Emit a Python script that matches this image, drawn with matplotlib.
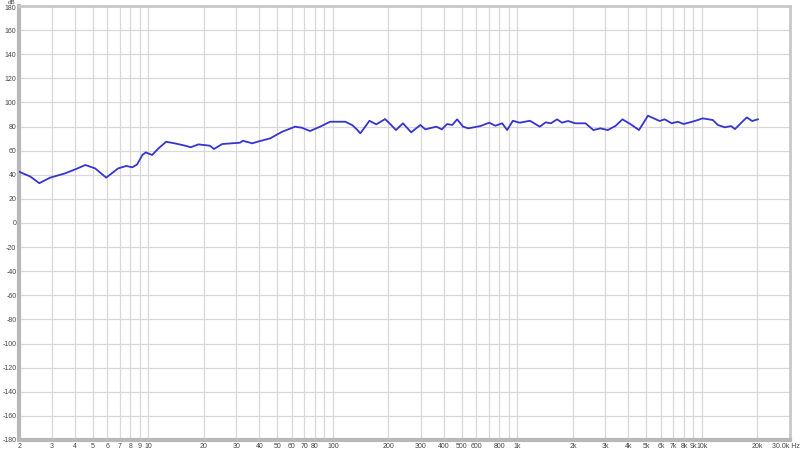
import matplotlib
matplotlib.use('Agg')
import matplotlib.pyplot as plt
import matplotlib.transforms as mtransforms
import numpy as np

plt.rcParams['font.family'] = ['Liberation Sans', 'DejaVu Sans']

# frequency response (Hz, dB)
freq = [2.0, 2.3, 2.57, 2.94, 3.55, 4.1, 4.56, 5.16, 5.92, 6.87, 7.6, 8.2, 8.7, 9.3, 9.7,
        10.5, 11.3, 12.5, 14.0, 15.9, 17.0, 18.7, 21.6, 22.7, 25.2, 31.4, 32.6, 36.6, 40.4,
        45.8, 53.2, 62.5, 68.0, 75.3, 85.4, 96.7, 117, 128, 136, 141, 150, 158, 172, 192,
        205, 220, 240, 266, 298, 317, 364, 390, 416, 444, 472, 508, 542, 630, 704, 760,
        828, 880, 946, 1029, 1170, 1322, 1424, 1520, 1642, 1744, 1884, 2060, 2340, 2580,
        2820, 3090, 3400, 3710, 4100, 4560, 5100, 5900, 6280, 6860, 7400, 7960, 9140, 10100,
        11460, 12200, 13300, 14400, 15100, 16300, 17500, 18700, 20100]
spl = [42.5, 38.5, 33.0, 37.6, 41.2, 45.0, 48.1, 45.3, 37.6, 45.3, 47.3, 46.2, 48.5, 56.4, 58.6,
       56.4, 61.5, 67.4, 66.0, 64.1, 62.8, 65.2, 64.1, 61.4, 65.5, 66.6, 68.2, 66.1, 68.0,
       70.2, 75.7, 79.9, 79.0, 76.3, 79.9, 84.0, 84.0, 81.0, 77.1, 74.4, 80.0, 84.8, 81.8, 86.2,
       82.0, 77.1, 82.7, 75.2, 81.3, 77.7, 79.9, 77.7, 82.1, 81.3, 86.0, 79.9, 78.5, 80.4, 83.2, 80.7,
       82.7, 77.1, 84.8, 83.2, 84.8, 79.9, 83.5, 82.7, 86.0, 83.2, 84.6, 82.7, 82.7, 77.1,
       78.5, 77.1, 80.5, 86.0, 82.0, 77.1, 89.0, 84.6, 86.0, 82.7, 84.0, 82.1, 84.6, 86.8,
       85.4, 81.3, 79.4, 80.4, 77.9, 83.0, 87.6, 84.6, 86.0]

x_ticks = [2, 3, 4, 5, 6, 7, 8, 9, 10, 20, 30, 40, 50, 60, 70, 80, 100, 200, 300, 400, 500,
           600, 800, 1000, 2000, 3000, 4000, 5000, 6000, 7000, 8000, 9000, 10000, 20000, 30000]
x_labels = ['2', '3', '4', '5', '6', '7', '8', '9', '10', '20', '30', '40', '50', '60', '70',
            '80', '100', '200', '300', '400', '500', '600', '800', '1k', '2k', '3k', '4k', '5k',
            '6k', '7k', '8k', '9k', '10k', '20k', '30.0k Hz']
y_ticks = list(range(-180, 181, 20))

fig = plt.figure(figsize=(8, 4.51), dpi=100)
ax = fig.add_axes([0.024, 0.0244, 0.9635, 0.9623])

grid_x = [m * 10 ** d for d in range(0, 5) for m in range(1, 10)]
grid_x = [g for g in grid_x if 2 <= g <= 30000]
for g in grid_x:
    ax.axvline(g, color='#d8d8d8', lw=0.9, zorder=0)
for g in y_ticks:
    ax.axhline(g, color='#d8d8d8', lw=0.9, zorder=0)

ax.plot(freq, spl, color='#3535d0', lw=1.3, zorder=3)

ax.set_xscale('log')
ax.set_xlim(2, 30000)
ax.set_ylim(-180, 180)
ax.set_xticks(x_ticks)
ax.set_xticklabels(x_labels)
ax.minorticks_off()
ax.set_yticks(y_ticks)
ax.set_yticklabels([str(v) for v in y_ticks])
ax.tick_params(length=0, labelsize=5, colors='#444444', pad=2)

# last label sits a bit left of its gridline, as in the reference
last = ax.get_xticklabels()[-1]
last.set_transform(last.get_transform() + mtransforms.ScaledTranslation(-4 / 100, 0, fig.dpi_scale_trans))
# top y label nudged down so the unit fits above it
top = ax.get_yticklabels()[-1]
top.set_transform(top.get_transform() + mtransforms.ScaledTranslation(0, -2 / 100, fig.dpi_scale_trans))

for side in ['left', 'bottom']:
    ax.spines[side].set_color('#b8b8b8')
    ax.spines[side].set_linewidth(3)
for side in ['top', 'right']:
    ax.spines[side].set_color('#c8c8c8')
    ax.spines[side].set_linewidth(2)

fig.text(0.015, 1.0, 'dB', fontsize=4.5, color='#444444', ha='center', va='top')

fig.savefig('out.png', dpi=100)
